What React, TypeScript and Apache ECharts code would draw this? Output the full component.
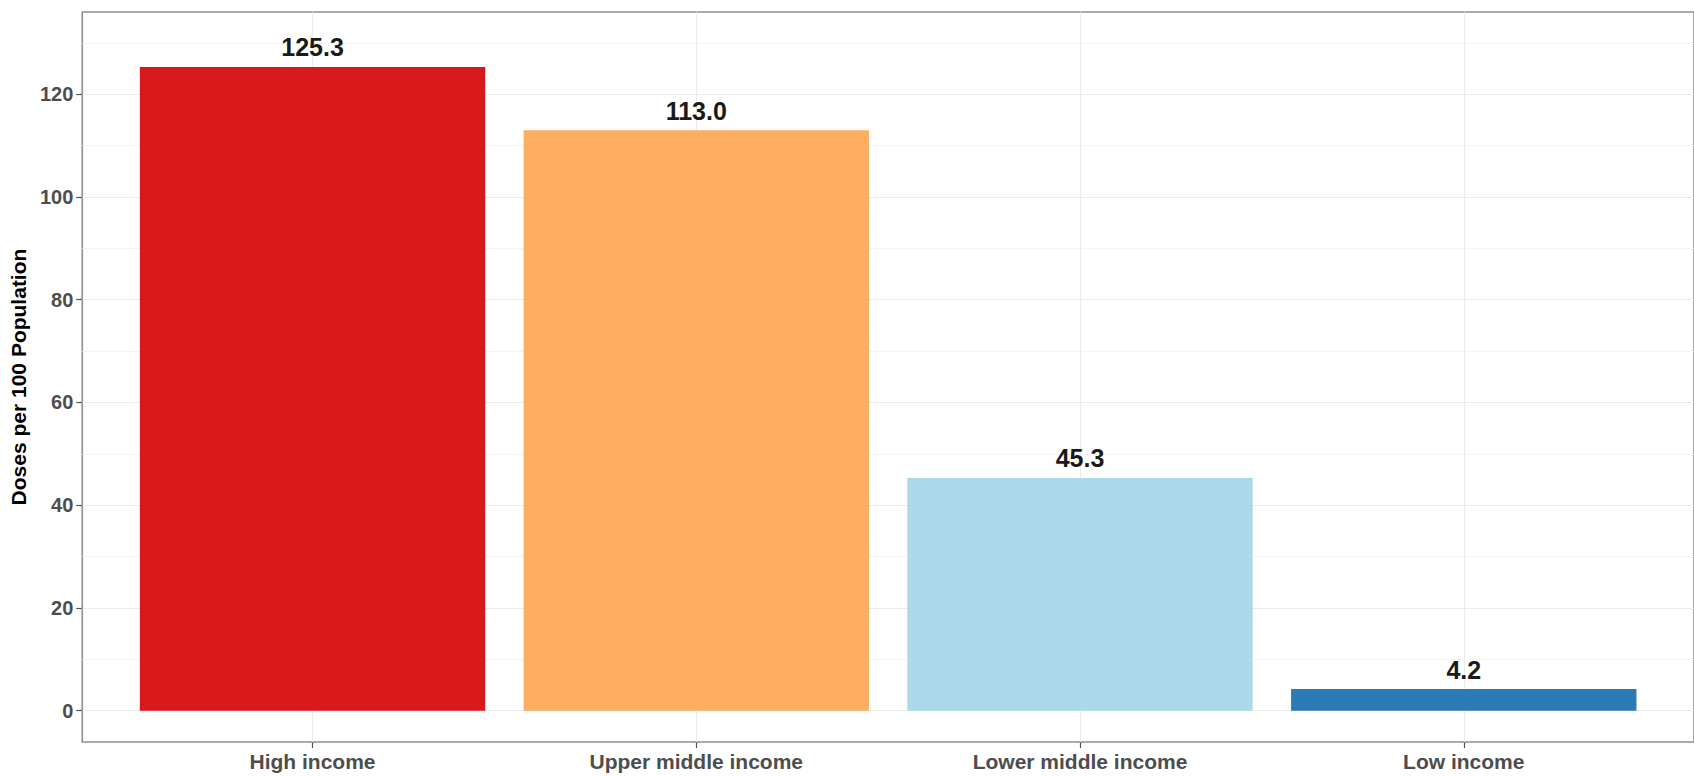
import React, { useEffect, useRef } from "react";
import * as echarts from "echarts";

const categories = ["High income", "Upper middle income", "Lower middle income", "Low income"];
const doses = [125.3, 113.0, 45.3, 4.2];
const barColors = ["#d7191c", "#fdae61", "#abd9e9", "#2c7bb6"];
const yTicks = [0, 20, 40, 60, 80, 100, 120];
const yMinorTicks = [10, 30, 50, 70, 90, 110, 130];
const xTicks = [0, 1, 2, 3];
const yAxisTitle = "Doses per 100 Population";

const FONT = "'Liberation Sans', Arial, sans-serif";

export default function App() {
  const ref = useRef<HTMLDivElement>(null);
  useEffect(() => {
    if (!ref.current) return;
    const chart = echarts.init(ref.current, null, { renderer: "svg" });
    const barData = doses.map((v, i) => ({
      value: [i, v],
      itemStyle: { color: barColors[i] },
    }));
    const major = { color: "#ebebeb", width: 1, type: "solid" };
    const minor = { color: "#f4f4f4", width: 1, type: "solid" };
    const gridLines = [
      ...yTicks.map((v) => ({ yAxis: v, lineStyle: major })),
      ...yMinorTicks.map((v) => ({ yAxis: v, lineStyle: minor })),
      ...xTicks.map((v) => ({ xAxis: v, lineStyle: major })),
    ];
    chart.setOption({
      animation: false,
      backgroundColor: "#ffffff",
      textStyle: { fontFamily: FONT },
      grid: {
        left: 82,
        right: 0,
        top: 12,
        bottom: 34,
        show: true,
        borderColor: "#8f8f8f",
        borderWidth: 1.6,
        backgroundColor: "transparent",
      },
      xAxis: {
        type: "value",
        min: -0.6,
        max: 3.6,
        axisLine: { show: false, onZero: false },
        splitLine: { show: false },
        axisTick: {
          show: true,
          length: 6,
          customValues: xTicks,
          lineStyle: { color: "#555555", width: 1.2 },
        },
        axisLabel: {
          customValues: xTicks,
          margin: 9,
          fontSize: 21,
          fontWeight: "bold",
          color: "#4d4d4d",
          fontFamily: FONT,
          formatter: (v: number) => categories[Math.round(v)] ?? "",
        },
      },
      yAxis: {
        type: "value",
        min: -6.1,
        max: 136,
        name: yAxisTitle,
        nameLocation: "middle",
        nameGap: 46,
        nameTextStyle: { fontSize: 21, fontWeight: "bold", color: "#000000", fontFamily: FONT },
        axisLine: { show: false, onZero: false },
        splitLine: { show: false },
        axisTick: {
          show: true,
          length: 6,
          customValues: yTicks,
          lineStyle: { color: "#555555", width: 1.2 },
        },
        axisLabel: {
          customValues: yTicks,
          margin: 9,
          fontSize: 20,
          fontWeight: "bold",
          color: "#4d4d4d",
          fontFamily: FONT,
        },
      },
      series: [
        {
          type: "line",
          data: [],
          z: 0,
          silent: true,
          markLine: {
            silent: true,
            z: 0,
            symbol: ["none", "none"],
            label: { show: false },
            emphasis: { disabled: true },
            data: gridLines,
          },
        },
        {
          type: "bar",
          z: 2,
          barWidth: "90%",
          data: barData,
          label: {
            show: true,
            position: "top",
            distance: 7,
            fontSize: 25,
            fontWeight: "bold",
            color: "#1a1a1a",
            fontFamily: FONT,
            formatter: (p: any) => Number(p.value[1]).toFixed(1),
          },
        },
      ],
    });
    return () => chart.dispose();
  }, []);
  return (
    <div
      ref={ref}
      style={{ position: "absolute", left: 0, top: 0, width: 1694, height: 776 }}
    />
  );
}
